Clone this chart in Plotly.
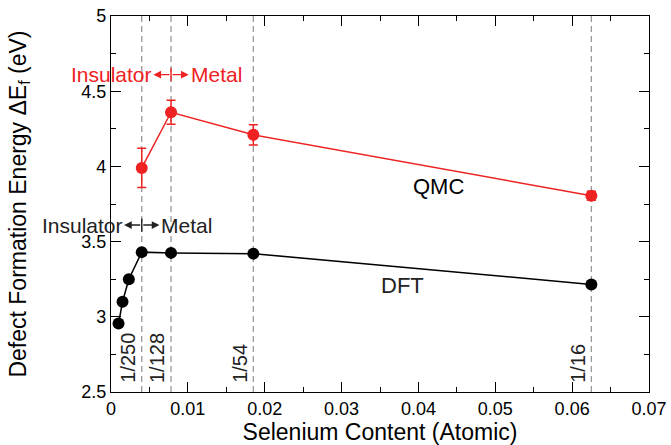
import plotly.graph_objects as go

# Data
qmc_x = [1/250, 1/128, 1/54, 1/16]
qmc_y = [3.99, 4.36, 4.21, 3.805]
qmc_err = [0.13, 0.08, 0.067, 0.03]

dft_x = [0.00098, 0.00150, 0.00232, 1/250, 1/128, 1/54, 1/16]
dft_y = [2.955, 3.10, 3.25, 3.43, 3.425, 3.42, 3.215]

vlines_x = [1/250, 1/128, 1/54, 1/16]
vlines_labels = ["1/250", "1/128", "1/54", "1/16"]

FONT = "Liberation Sans, Arial, sans-serif"
RED = "#ee2222"

fig = go.Figure()

fig.add_trace(go.Scatter(
    x=qmc_x, y=qmc_y, mode="lines+markers",
    line=dict(color=RED, width=1.5),
    marker=dict(color=RED, size=12),
    error_y=dict(type="data", array=qmc_err, color=RED, thickness=1.5, width=4.5),
    showlegend=False))

fig.add_trace(go.Scatter(
    x=dft_x, y=dft_y, mode="lines+markers",
    line=dict(color="black", width=1.5),
    marker=dict(color="black", size=12),
    showlegend=False))

for xv, lab in zip(vlines_x, vlines_labels):
    fig.add_shape(type="line", x0=xv, x1=xv, y0=0, y1=1, xref="x", yref="paper",
                  line=dict(color="#999999", width=1.3, dash="6px,4px"), layer="below")
    fig.add_annotation(x=xv, y=2.5, xref="x", yref="y", text=lab, showarrow=False,
                       textangle=-90, xanchor="right", yanchor="bottom", xshift=-1, yshift=7,
                       font=dict(family=FONT, size=20, color="#222222"))

def ins_metal(xc, y, color):
    for tip in (xc - 0.0023, xc + 0.0023):
        fig.add_annotation(x=tip, y=y, ax=xc, ay=y, xref="x", yref="y", axref="x", ayref="y",
                           text="", showarrow=True, arrowhead=2, arrowsize=1.1, arrowwidth=1.4,
                           arrowcolor=color)
    fig.add_shape(type="line", x0=xc, x1=xc, y0=y - 0.044, y1=y + 0.044, xref="x", yref="y",
                  line=dict(color=color, width=1.4))
    fig.add_annotation(x=xc - 0.0023, y=y, xref="x", yref="y", text="Insulator", showarrow=False,
                       xanchor="right", xshift=1, font=dict(family=FONT, size=21, color=color))
    fig.add_annotation(x=xc + 0.0023, y=y, xref="x", yref="y", text="Metal", showarrow=False,
                       xanchor="left", xshift=0, font=dict(family=FONT, size=21, color=color))

ins_metal(1/128, 4.61, RED)
ins_metal(1/250, 3.61, "#222222")

fig.add_annotation(x=0.04255, y=3.865, text="QMC", showarrow=False,
                   font=dict(family=FONT, size=22, color="black"))
fig.add_annotation(x=0.0379, y=3.207, text="DFT", showarrow=False,
                   font=dict(family=FONT, size=22, color="#222222"))

axis_common = dict(showline=True, linecolor="black", linewidth=1.3, mirror="ticks",
                   ticks="inside", tickcolor="black", tickwidth=1.3, ticklen=10,
                   showgrid=False, zeroline=False, automargin=False,
                   tickfont=dict(family=FONT, size=18, color="black"))

fig.update_xaxes(range=[0, 0.07], dtick=0.01, tick0=0,
                 minor=dict(dtick=0.005, ticklen=5, tickcolor="black", tickwidth=1.3, ticks="inside"),
                 title=dict(text="Selenium Content (Atomic)", standoff=8,
                            font=dict(family=FONT, size=23, color="black")),
                 **axis_common)
fig.update_yaxes(range=[2.5, 5], dtick=0.5, tick0=2.5,
                 minor=dict(dtick=0.25, ticklen=5, tickcolor="black", tickwidth=1.3, ticks="inside"),
                 title=dict(text="Defect Formation Energy ΔE<sub>f</sub> (eV)", standoff=48,
                            font=dict(family=FONT, size=23, color="black")),
                 **axis_common)

fig.update_layout(width=671, height=445, margin=dict(l=111, r=22, t=16, b=53),
                  plot_bgcolor="white", paper_bgcolor="white")

fig.write_html("out.html")
